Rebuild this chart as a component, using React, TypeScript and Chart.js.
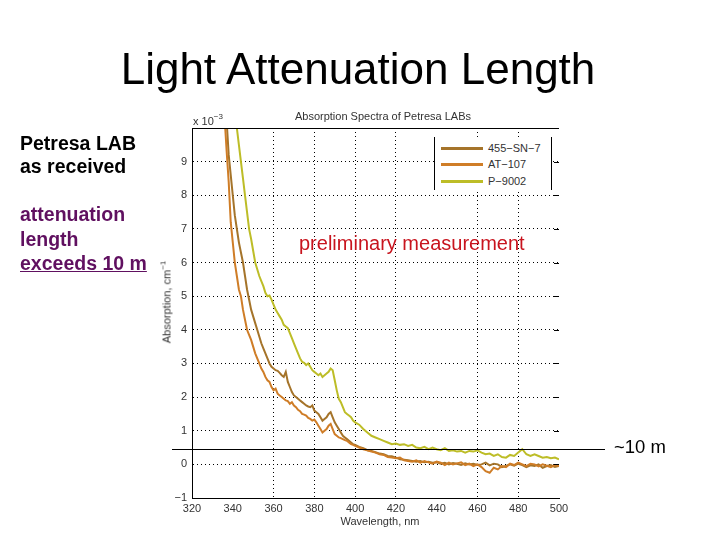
import React, { useEffect, useRef } from "react";
import { Chart, registerables } from "chart.js";

Chart.register(...registerables);

// ---------- data ----------
const wavelengths = [
  336, 337, 338, 339, 340, 341, 342, 343, 344, 345,
  346, 347, 348, 349, 350, 351, 352, 353, 354, 355,
  356, 357, 358, 359, 360, 361, 362, 363, 364, 365,
  366, 367, 368, 369, 370, 371, 372, 373, 374, 375,
  376, 377, 378, 379, 380, 381, 382, 383, 384, 385,
  386, 387, 388, 389, 390, 391, 392, 393, 394, 395,
  396, 397, 398, 399, 400,
  402, 404, 406, 408, 410, 412, 414, 416, 418, 420,
  422, 424, 426, 428, 430, 432, 434, 436, 438, 440,
  442, 444, 446, 448, 450, 452, 454, 456, 458, 460,
  462, 464, 466, 468, 470, 472, 474, 476, 478, 480,
  482, 484, 486, 488, 490, 492, 494, 496, 498, 500,
];

const sn7 = [
  11, 10.2, 9.2, 8.6, 8.0, 7.4, 7.0, 6.6, 6.3, 6.0,
  5.6, 5.2, 4.9, 4.6, 4.4, 4.2, 4.0, 3.8, 3.6, 3.45,
  3.3, 3.15, 3.0, 2.9, 2.85, 2.8, 2.78, 2.72, 2.65, 2.6,
  2.75, 2.45, 2.3, 2.15, 2.05, 2.0, 1.95, 1.9, 1.85, 1.8,
  1.75, 1.72, 1.7, 1.75, 1.6, 1.55, 1.5, 1.4, 1.3, 1.35,
  1.4, 1.5, 1.55, 1.4, 1.25, 1.15, 1.05, 0.95, 0.85, 0.8,
  0.75, 0.7, 0.65, 0.6, 0.58,
  0.52, 0.48, 0.42, 0.4, 0.36, 0.32, 0.3, 0.25, 0.24, 0.2,
  0.15, 0.14, 0.12, 0.1, 0.08, 0.1, 0.06, 0.08, 0.05, 0.06,
  0.02, 0.05, 0.0, 0.04, 0.02, -0.02, 0.03, 0.0, 0.02, -0.02,
  0.0, 0.05, -0.03, 0.02, 0.0, -0.08, -0.05, 0.0, -0.04, 0.02,
  -0.02, -0.08, -0.03, -0.05, 0.0, -0.1, -0.05, -0.02, -0.08, -0.05,
];

const at107 = [
  10.3, 9.3, 8.4, 7.2, 6.6, 6.0, 5.6, 5.2, 5.0, 4.6,
  4.3, 4.0, 3.85, 3.7, 3.5, 3.3, 3.15, 3.0, 2.85, 2.75,
  2.6, 2.5, 2.45, 2.3, 2.2, 2.25, 2.1, 2.05, 2.0, 1.95,
  1.9, 1.88, 1.8, 1.85, 1.75, 1.7, 1.62, 1.58, 1.5, 1.48,
  1.45, 1.38, 1.35, 1.3, 1.33, 1.25, 1.15, 1.05, 0.95, 1.0,
  1.05, 1.15, 1.2, 1.05, 0.9, 0.85, 0.8, 0.78, 0.75, 0.72,
  0.7, 0.65, 0.6, 0.58, 0.55,
  0.5, 0.45, 0.42, 0.38, 0.35, 0.3, 0.28, 0.22, 0.2, 0.18,
  0.2, 0.12, 0.1, 0.08, 0.12, 0.05, 0.1, 0.06, 0.02, 0.08,
  0.05, -0.02, 0.05, 0.0, 0.03, 0.06, -0.02, 0.02, -0.05, 0.0,
  -0.08, -0.2, -0.25, -0.1, -0.15, -0.05, -0.08, 0.02, -0.02, 0.05,
  0.0, -0.05, 0.02, 0.0, -0.06, 0.0, -0.04, -0.08, -0.02, -0.05,
];

const p9002 = [
  null, null, null, null, 11.5, 10.6, 10.0, 9.5, 9.0, 8.5,
  8.0, 7.5, 7.0, 6.7, 6.35, 6.0, 5.8, 5.6, 5.45, 5.3,
  5.1, 5.0, 5.02, 4.9, 4.75, 4.6, 4.5, 4.4, 4.3, 4.15,
  4.1, 4.05, 3.9, 3.75, 3.6, 3.45, 3.3, 3.15, 3.05, 3.02,
  2.95, 3.0, 2.9, 2.8, 2.75, 2.7, 2.65, 2.7, 2.6, 2.65,
  2.7, 2.75, 2.85, 2.8, 2.5, 2.2, 1.95, 1.85, 1.7, 1.55,
  1.5, 1.45, 1.4, 1.3, 1.25,
  1.18, 1.05, 0.95, 0.85, 0.8, 0.75, 0.7, 0.65, 0.6, 0.62,
  0.58, 0.6, 0.55, 0.58, 0.5, 0.48, 0.52, 0.45, 0.5, 0.45,
  0.42, 0.48, 0.4, 0.42, 0.38, 0.4, 0.35, 0.4, 0.38, 0.42,
  0.35, 0.3, 0.32, 0.25, 0.3, 0.22, 0.2, 0.28, 0.25, 0.35,
  0.45, 0.3, 0.25, 0.3, 0.25, 0.2, 0.22, 0.18, 0.2, 0.15,
];

const seriesNames = ["455-SN-7", "AT-107", "P-9002"];
const seriesValues = [sn7, at107, p9002];
const seriesColors = ["#a5742a", "#cf7d27", "#bdbd27"];

const xMin = 320;
const xMax = 500;
const xStep = 20;
const yMin = -1;
const yMax = 10;
const yStep = 1;
const hiddenXGrid = [320, 340, 440, 500];
const hiddenYGrid = [-1, 10];
const tenMeterLevel = 0.46;

const FONT = "'Liberation Sans', Arial, Helvetica, sans-serif";
const AXIS_TEXT = "#333333";

// ---------- helpers ----------
function Txt(props: {
  x: number;
  base: number;
  size: number;
  color?: string;
  bold?: boolean;
  center?: boolean;
  underline?: boolean;
  children: React.ReactNode;
}) {
  const { x, base, size, color = "#000", bold, center, underline, children } = props;
  return (
    <div
      style={{
        position: "absolute",
        left: x,
        top: base - 0.8465 * size,
        fontFamily: FONT,
        fontSize: size,
        lineHeight: 1,
        fontWeight: bold ? 700 : 400,
        color,
        whiteSpace: "nowrap",
        textDecoration: underline ? "underline" : "none",
        transform: center ? "translateX(-50%)" : undefined,
      }}
    >
      {children}
    </div>
  );
}

const framePlugin = {
  id: "frameExtras",
  afterDraw(chart: any) {
    const { ctx, chartArea: a, scales } = chart;
    ctx.save();
    ctx.strokeStyle = "#000";
    ctx.lineWidth = 1;
    ctx.setLineDash([]);
    // top frame line
    ctx.beginPath();
    ctx.moveTo(a.left, Math.round(a.top) + 0.5);
    ctx.lineTo(a.right, Math.round(a.top) + 0.5);
    ctx.stroke();
    // inward ticks on right side
    ctx.beginPath();
    for (const t of scales.y.ticks) {
      if (t.value <= yMin || t.value >= yMax) continue;
      const y = Math.round(scales.y.getPixelForValue(t.value)) + 0.5;
      ctx.moveTo(a.right - 5, y);
      ctx.lineTo(a.right, y);
    }
    ctx.stroke();
    // ~10 m level line
    const yl = Math.round(scales.y.getPixelForValue(tenMeterLevel)) + 0.5;
    ctx.beginPath();
    ctx.moveTo(172, yl);
    ctx.lineTo(605, yl);
    ctx.stroke();
    ctx.restore();
  },
};

export default function App() {
  const canvasRef = useRef<HTMLCanvasElement | null>(null);

  useEffect(() => {
    const canvas = canvasRef.current;
    if (!canvas) return;
    const datasets = seriesNames.map((name, i) => ({
      label: name,
      data: wavelengths.map((w, k) => ({ x: w, y: seriesValues[i][k] })),
      borderColor: seriesColors[i],
      backgroundColor: seriesColors[i],
      borderWidth: 2,
      pointRadius: 0,
      tension: 0,
      fill: false,
      spanGaps: false,
      order: seriesNames.length - i,
    }));

    const chart = new Chart(canvas, {
      type: "line",
      data: { datasets },
      plugins: [framePlugin],
      options: {
        animation: false,
        responsive: false,
        devicePixelRatio: 1,
        parsing: true,
        layout: {
          padding: { left: 192 - 40, right: 720 - 559, top: 128, bottom: 540 - 498 - 26 },
        },
        plugins: {
          legend: { display: false },
          title: { display: false },
          tooltip: { enabled: false },
        },
        scales: {
          x: {
            type: "linear",
            min: xMin,
            max: xMax,
            afterFit: (s: any) => {
              s.height = 26;
            },
            ticks: {
              stepSize: xStep,
              autoSkip: false,
              maxRotation: 0,
              padding: 4,
              color: AXIS_TEXT,
              font: { family: FONT, size: 11 },
            },
            grid: {
              drawTicks: false,
              lineWidth: 1,
              color: (c: any) =>
                c.tick && hiddenXGrid.includes(c.tick.value) ? "rgba(0,0,0,0)" : "#000",
            },
            border: { display: true, color: "#000", width: 1, dash: [1, 3] },
          },
          y: {
            type: "linear",
            min: yMin,
            max: yMax,
            afterFit: (s: any) => {
              s.width = 40;
            },
            ticks: {
              stepSize: yStep,
              padding: 5,
              color: AXIS_TEXT,
              font: { family: FONT, size: 11 },
              callback: (v: any) =>
                v === yMax ? "" : v < 0 ? "\u2212" + Math.abs(v) : String(v),
            },
            grid: {
              drawTicks: false,
              lineWidth: 1,
              color: (c: any) =>
                c.tick && hiddenYGrid.includes(c.tick.value) ? "rgba(0,0,0,0)" : "#000",
            },
            border: { display: true, color: "#000", width: 1, dash: [1, 3] },
          },
        },
      },
    } as any);
    return () => chart.destroy();
  }, []);

  const legendRows = [148, 164.5, 181];

  return (
    <div
      style={{
        position: "absolute",
        left: 0,
        top: 0,
        width: 720,
        height: 540,
        background: "#fff",
        overflow: "hidden",
      }}
    >
      <canvas
        ref={canvasRef}
        width={720}
        height={540}
        style={{ position: "absolute", left: 0, top: 0, width: 720, height: 540 }}
      />

      {/* slide title */}
      <Txt x={358} base={84} size={44} center>
        Light Attenuation Length
      </Txt>

      {/* left notes */}
      <Txt x={20} base={151} size={19.5} bold>
        Petresa LAB
      </Txt>
      <Txt x={20} base={174} size={19.5} bold>
        as received
      </Txt>
      <Txt x={20} base={222} size={19.5} bold color="#601060">
        attenuation
      </Txt>
      <Txt x={20} base={246.5} size={19.5} bold color="#601060">
        length
      </Txt>
      <Txt x={20} base={270.5} size={19.5} bold color="#601060" underline>
        exceeds 10 m
      </Txt>

      {/* annotations */}
      <Txt x={299} base={250} size={20} color="#c8141e">
        preliminary measurement
      </Txt>
      <Txt x={614} base={453.5} size={18.5}>
        ~10 m
      </Txt>

      {/* plot texts */}
      <Txt x={383} base={120} size={11} color={AXIS_TEXT} center>
        Absorption Spectra of Petresa LABs
      </Txt>
      <Txt x={193} base={125} size={11} color={AXIS_TEXT}>
        x 10
        <span style={{ fontSize: 8, position: "relative", top: -6 }}>{"\u22123"}</span>
      </Txt>
      <Txt x={380} base={525} size={11} color={AXIS_TEXT} center>
        Wavelength, nm
      </Txt>
      <div
        style={{
          position: "absolute",
          left: 167,
          top: 302,
          transform: "translate(-50%, -50%) rotate(-90deg)",
          fontFamily: FONT,
          fontSize: 11,
          lineHeight: 1,
          color: AXIS_TEXT,
          whiteSpace: "nowrap",
        }}
      >
        Absorption, cm
        <span style={{ fontSize: 8, position: "relative", top: -5 }}>{"\u22121"}</span>
      </div>

      {/* legend */}
      <div
        style={{
          position: "absolute",
          left: 434,
          top: 137,
          width: 116,
          height: 53,
          background: "#fff",
          borderLeft: "1px solid #000",
          borderRight: "1px solid #000",
        }}
      />
      {seriesNames.map((name, i) => (
        <React.Fragment key={name}>
          <div
            style={{
              position: "absolute",
              left: 441,
              top: legendRows[i] - 1.5,
              width: 42,
              height: 3,
              background: seriesColors[i],
            }}
          />
          <Txt x={488} base={legendRows[i] + 4} size={11} color={AXIS_TEXT}>
            {name.replace(/-/g, "\u2212")}
          </Txt>
        </React.Fragment>
      ))}
    </div>
  );
}
